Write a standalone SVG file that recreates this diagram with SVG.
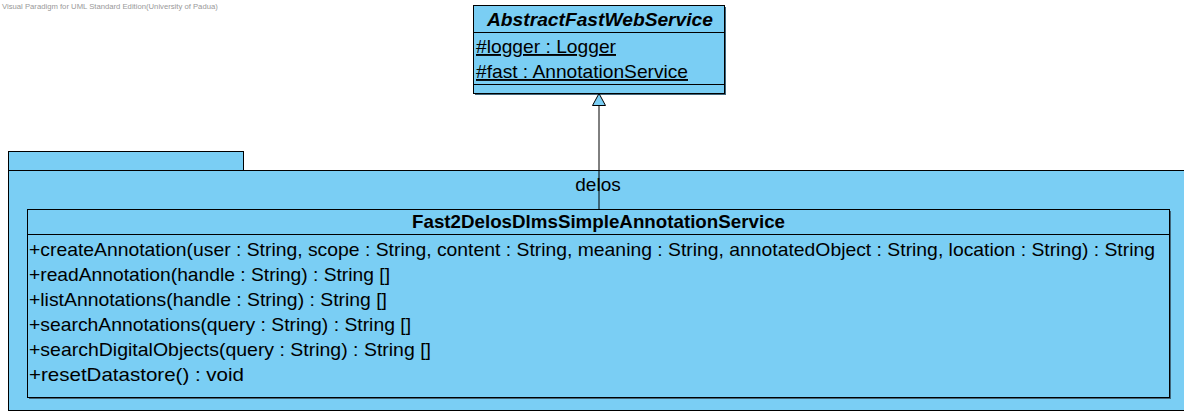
<svg xmlns="http://www.w3.org/2000/svg" width="1184" height="412" viewBox="0 0 1184 412">
<style>
.box{fill:#7ACEF4;stroke:#000;stroke-width:1}
.sh{fill:#42667A}
.t{font-family:"Liberation Sans",Arial,sans-serif;fill:#000}
.op{font-size:19px}
.wm{font-family:"Liberation Sans",Arial,sans-serif;font-size:7.7px;fill:#999}
</style>
<rect width="1184" height="412" fill="#fff"/>
<text class="wm" x="2" y="9">Visual Paradigm for UML Standard Edition(University of Padua)</text>
<g id="delos">
<rect class="box" x="8.5" y="151.5" width="235" height="19"/>
<rect class="box" x="8.5" y="170.5" width="1185" height="240"/>
<text class="t" x="598" y="191" font-size="19" text-anchor="middle">delos</text>
</g>
<g id="AbstractFastWebService">
<rect class="sh" x="475" y="7" width="251" height="88"/>
<rect class="box" x="473.5" y="5.5" width="251" height="88"/>
<line x1="473.5" y1="32.5" x2="724.5" y2="32.5" stroke="#000"/>
<line x1="473.5" y1="84.5" x2="724.5" y2="84.5" stroke="#000"/>
<text class="t" x="600" y="26" font-size="19" font-weight="bold" font-style="italic" text-anchor="middle" textLength="226" lengthAdjust="spacingAndGlyphs">AbstractFastWebService</text>
<text class="t" x="476" y="53" font-size="19" text-decoration="underline" textLength="140" lengthAdjust="spacingAndGlyphs">#logger : Logger</text>
<text class="t" x="476" y="78" font-size="19" text-decoration="underline" textLength="212" lengthAdjust="spacingAndGlyphs">#fast : AnnotationService</text>
</g>
<g id="Fast2DelosDlmsSimpleAnnotationService">
<rect class="sh" x="29" y="211" width="1142" height="188"/>
<rect class="box" x="27.5" y="209.5" width="1142" height="188"/>
<line x1="27.5" y1="234.5" x2="1169.5" y2="234.5" stroke="#000"/>
<text class="t" x="598.5" y="228" font-size="19" font-weight="bold" text-anchor="middle" textLength="373" lengthAdjust="spacingAndGlyphs">Fast2DelosDlmsSimpleAnnotationService</text>
<text class="t op" x="29" y="256" textLength="1126" lengthAdjust="spacingAndGlyphs">+createAnnotation(user : String, scope : String, content : String, meaning : String, annotatedObject : String, location : String) : String</text>
<text class="t op" x="29" y="281" textLength="361" lengthAdjust="spacingAndGlyphs">+readAnnotation(handle : String) : String []</text>
<text class="t op" x="29" y="306" textLength="358" lengthAdjust="spacingAndGlyphs">+listAnnotations(handle : String) : String []</text>
<text class="t op" x="29" y="331" textLength="382" lengthAdjust="spacingAndGlyphs">+searchAnnotations(query : String) : String []</text>
<text class="t op" x="29" y="356" textLength="402" lengthAdjust="spacingAndGlyphs">+searchDigitalObjects(query : String) : String []</text>
<text class="t op" x="29" y="381" textLength="215" lengthAdjust="spacingAndGlyphs">+resetDatastore() : void</text>
</g>
<g id="connectors">
<line x1="599" y1="105" x2="599" y2="209" stroke="#000"/>
<polygon points="599,93.5 592.5,105.5 605.5,105.5" fill="#7ACEF4" stroke="#000"/>
</g>
</svg>
